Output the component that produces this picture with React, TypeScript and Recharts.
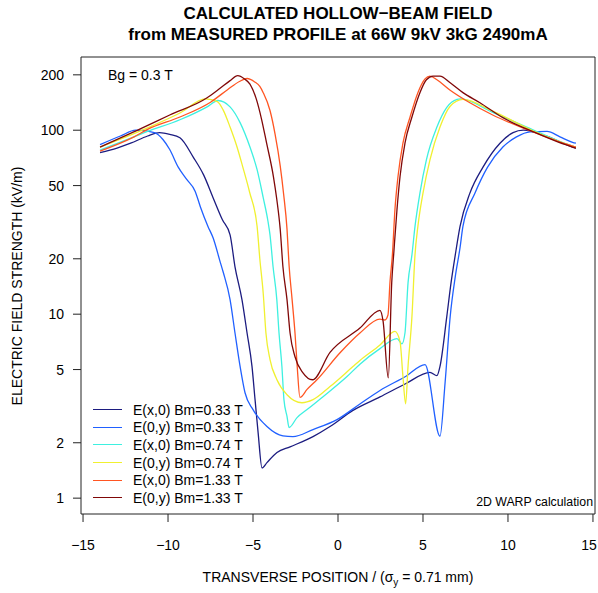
import React from 'react';
import { LineChart, Line, XAxis, YAxis, Legend, ReferenceArea } from 'recharts';

const FONT = '"Liberation Sans", Arial, Helvetica, sans-serif';

const seriesNames = [
  'E(x,0) Bm=0.33 T',
  'E(0,y) Bm=0.33 T',
  'E(x,0) Bm=0.74 T',
  'E(0,y) Bm=0.74 T',
  'E(x,0) Bm=1.33 T',
  'E(0,y) Bm=1.33 T',
];
const seriesColors = ['#1c1c80', '#2060ff', '#3ef0e0', '#f0f030', '#ff5522', '#800808'];

const xTicks = [-15, -10, -5, 0, 5, 10, 15];
const yTicks = [1, 2, 5, 10, 20, 50, 100, 200];

// E(x,0) Bm=0.33 T
const navyX = [-14, -13, -12.2, -11.2, -10.5, -9.9, -9.3, -8.5, -7.9, -7.35, -6.8, -6.35, -6.06, -5.65, -5.35, -5.06, -4.88, -4.7, -4.47, -4.18, -3.59, -2.82, -1.47, -0.47, 0.88, 2.47, 4.0, 5.41, 5.82, 6.0, 6.4, 6.65, 6.9, 7.18, 7.76, 8.53, 9.53, 10.3, 10.9, 12.3, 13.8, 14];
const navyY = [75.5, 80, 85, 93, 97, 95, 91, 71, 57, 43, 32.6, 27, 18.1, 12, 7.9, 5.2, 3.43, 2.27, 1.46, 1.56, 1.77, 1.9, 2.16, 2.45, 3.0, 3.55, 4.2, 4.83, 4.63, 5.2, 9.7, 14.8, 21, 30, 45.5, 63, 85, 97, 100, 92.5, 81, 80];

// E(0,y) Bm=0.33 T
const blueX = [-14, -12.8, -11.9, -10.8, -10.3, -9.9, -9.4, -8.9, -8.4, -8.1, -7.65, -7.35, -6.95, -6.76, -6.35, -6.06, -5.76, -5.47, -5.0, -4.18, -3.24, -2.65, -1.47, -0.06, 1.29, 2.47, 4.0, 5.12, 6.0, 6.3, 6.6, 6.9, 7.18, 7.35, 8.06, 8.8, 9.7, 10.5, 11.3, 12.3, 13.06, 13.8, 14];
const blueY = [83.5, 93, 100, 97, 89, 78.5, 63, 54, 46.5, 38.4, 30, 26, 19.5, 17, 12, 7.9, 5.2, 3.74, 3.03, 2.45, 2.18, 2.16, 2.36, 2.67, 3.25, 3.85, 4.6, 5.32, 2.17, 4.24, 9.7, 16, 23, 30, 45.5, 63, 81, 92, 98, 98.5, 92, 86, 85];

// E(x,0) Bm=0.74 T
const cyanX = [-14, -12, -11.2, -9.3, -7.7, -7.06, -6.35, -5.76, -5.18, -4.76, -4.4, -4.12, -4.0, -3.82, -3.6, -3.47, -3.3, -3.18, -3.0, -2.88, -2.41, -1.82, -0.88, 0.53, 1.29, 2.47, 3.47, 3.76, 3.94, 4.12, 4.35, 4.53, 4.82, 5.2, 5.82, 6.4, 7.0, 7.2, 9.1, 11.1, 13.8, 14];
const cyanY = [78, 92, 98.5, 114, 134, 145, 134, 110, 81, 61, 43, 32, 27, 18.1, 12, 7.9, 5.2, 3.43, 2.78, 2.42, 2.74, 3.03, 3.56, 4.58, 5.35, 6.5, 7.37, 6.9, 7.9, 14.8, 21, 30, 45.5, 69, 104, 133, 147, 148, 125, 104, 82, 81];

// E(0,y) Bm=0.74 T
const yellowX = [-14, -11.2, -9.3, -7.8, -7.1, -6.76, -6.35, -5.94, -5.6, -5.2, -4.76, -4.6, -4.4, -4.24, -4.0, -3.6, -3.0, -2.12, -1.47, -0.47, 0.88, 1.29, 2.47, 3.35, 3.65, 3.82, 3.98, 4.12, 4.35, 4.53, 4.7, 5.0, 5.41, 6.0, 6.6, 7.35, 9.1, 11.5, 13.8, 14];
const yellowY = [81, 103, 124, 148, 143, 129, 104, 81, 63, 46, 30, 20, 13, 7.9, 5.67, 4.42, 3.65, 3.3, 3.43, 4.04, 5.19, 5.6, 6.8, 8.06, 7.1, 4.59, 3.26, 5.2, 9.7, 21, 30, 45.5, 69, 104, 135, 147, 127, 99, 82, 81];

// E(x,0) Bm=1.33 T
const orangeX = [-14, -12, -11.2, -9.3, -7.5, -6.5, -5.8, -5.35, -4.9, -4.6, -4.4, -4.0, -3.7, -3.4, -3.2, -3.0, -2.88, -2.7, -2.53, -2.4, -2.24, -1.82, -1.24, 0.12, 1.29, 2.47, 2.76, 2.94, 3.06, 3.2, 3.35, 3.53, 3.82, 4.24, 4.7, 5.12, 5.41, 5.82, 6.6, 7.76, 9.1, 11.1, 13.8, 14];
const orangeY = [77, 92, 101, 118, 142, 166, 184, 191, 183, 173, 160, 128, 95, 64, 45, 29, 18.5, 12, 7.9, 5.2, 3.53, 3.9, 4.4, 6.17, 7.9, 9.4, 9.3, 9.9, 15, 21, 37, 56, 85, 118, 160, 190, 197, 188, 165, 141, 121, 101, 82, 81];

// E(0,y) Bm=1.33 T
const darkredX = [-14, -11.6, -9.9, -7.7, -6.94, -6.35, -5.9, -5.5, -5.18, -4.8, -4.5, -4.2, -3.8, -3.6, -3.4, -3.24, -3.0, -2.82, -2.53, -2.06, -1.5, -0.47, 1.29, 2.47, 2.65, 2.96, 3.16, 3.29, 3.47, 3.65, 3.94, 4.35, 4.82, 5.2, 5.59, 6.0, 6.6, 7.35, 8.35, 9.7, 11.5, 13.8, 14];
const darkredY = [81, 102, 121, 150, 169, 186, 198, 190, 178, 147, 115, 85, 56, 42, 29, 18.1, 12, 7.9, 5.87, 4.8, 4.4, 6.2, 8.4, 10.5, 9.2, 4.5, 14.8, 22, 37, 56, 85, 118, 160, 188, 197, 197, 181, 160, 141, 117, 98, 81, 80];

const seriesX = [navyX, blueX, cyanX, yellowX, orangeX, darkredX];
const seriesY = [navyY, blueY, cyanY, yellowY, orangeY, darkredY];

const toPoints = (xs: number[], ys: number[]) => xs.map((x, i) => ({ x, y: ys[i] }));
const seriesData = seriesX.map((xs, i) => toPoints(xs, seriesY[i]));

const X_DOMAIN: [number, number] = [-15.12, 15.12];
const Y_DOMAIN: [number, number] = [0.82, 250];

const fmtX = (v: number) => (v < 0 ? '\u2212' + Math.abs(v) : String(v));

const XTick = (props: any) => {
  const { x, y, payload } = props;
  const label = fmtX(payload.value);
  const half = label.length * 4;
  const cx = Math.min(x, 597 - half);
  return (
    <text x={cx} y={y} dy="0.71em" textAnchor="middle" fill="#000" fontSize={14} fontFamily={FONT}>
      {label}
    </text>
  );
};

const renderLegend = () => (
  <div style={{ fontFamily: FONT, fontSize: 14, color: '#000' }}>
    {seriesNames.map((name, i) => (
      <div key={i} style={{ display: 'flex', alignItems: 'center', height: 17.6, whiteSpace: 'nowrap' }}>
        <div style={{ width: 29, height: 0, borderTop: `1.5px solid ${seriesColors[i]}`, marginRight: 11 }} />
        <span>{name}</span>
      </div>
    ))}
  </div>
);

export default function App() {
  return (
    <div style={{ position: 'absolute', left: 0, top: 0, width: 598, height: 593, background: '#fff' }}>
      <LineChart
        width={598}
        height={593}
        margin={{ top: 57, right: 3, bottom: 0, left: 0 }}
        style={{ fontFamily: FONT }}
      >
        <XAxis
          type="number"
          dataKey="x"
          domain={X_DOMAIN}
          ticks={xTicks}
          interval={0}
          allowDataOverflow
          tickFormatter={fmtX}
          height={79}
          tickSize={8}
          tickMargin={18}
          axisLine={false}
          tickLine={{ stroke: '#222' }}
          tick={<XTick />}
        />
        <YAxis
          type="number"
          scale="log"
          domain={Y_DOMAIN}
          ticks={yTicks}
          interval={0}
          allowDataOverflow
          width={81}
          tickSize={8}
          tickMargin={9}
          axisLine={false}
          tickLine={{ stroke: '#222' }}
          tick={{ fill: '#000', fontSize: 14, fontFamily: FONT }}
        />
        <ReferenceArea
          x1={X_DOMAIN[0]}
          x2={X_DOMAIN[1]}
          y1={Y_DOMAIN[0]}
          y2={Y_DOMAIN[1]}
          fill="none"
          stroke="#222"
          strokeWidth={1}
          fillOpacity={0}
          ifOverflow="visible"
        />
        {seriesData.map((d, i) => (
          <Line
            key={i}
            data={d}
            dataKey="y"
            name={seriesNames[i]}
            type="monotoneX"
            stroke={seriesColors[i]}
            strokeWidth={1.3}
            dot={false}
            activeDot={false}
            isAnimationActive={false}
          />
        ))}
        <Legend
          layout="vertical"
          align="center"
          verticalAlign="middle"
          wrapperStyle={{ left: 93, top: 401, width: 200, height: 110 }}
          content={renderLegend}
        />
      </LineChart>
      <svg
        width={598}
        height={593}
        style={{ position: 'absolute', left: 0, top: 0, pointerEvents: 'none' }}
        fontFamily={FONT}
      >
        <text x={338} y={19} textAnchor="middle" fontSize={17} fontWeight="bold">
          CALCULATED HOLLOW{'\u2212'}BEAM FIELD
        </text>
        <text x={338} y={40} textAnchor="middle" fontSize={17} fontWeight="bold">
          from MEASURED PROFILE at 66W 9kV 3kG 2490mA
        </text>
        <text x={108} y={80} fontSize={14}>Bg = 0.3 T</text>
        <text x={593} y={506} textAnchor="end" fontSize={12.3}>2D WARP calculation</text>
        <text x={338} y={582} textAnchor="middle" fontSize={14}>
          TRANSVERSE POSITION / (σ<tspan dy={4} fontSize={10}>y</tspan>
          <tspan dy={-4}> = 0.71 mm)</tspan>
        </text>
        <text
          x={0}
          y={0}
          transform="translate(22,286) rotate(-90)"
          textAnchor="middle"
          fontSize={14}
        >
          ELECTRIC FIELD STRENGTH (kV/m)
        </text>
      </svg>
    </div>
  );
}
